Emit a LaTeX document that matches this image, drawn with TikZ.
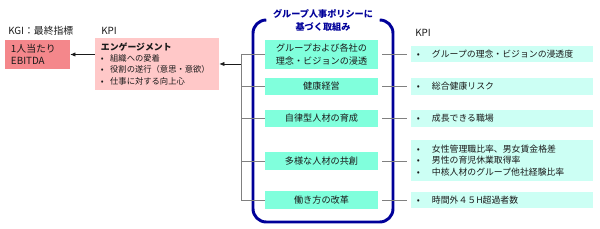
\documentclass[tikz,border=0pt]{standalone}
\usepackage{fontspec}
\setmainfont{Noto Sans CJK JP}
\usetikzlibrary{arrows.meta,positioning,calc}
\definecolor{ink}{HTML}{1A1A1A}
\definecolor{navy}{HTML}{000099}
\definecolor{kgired}{HTML}{F4878B}
\definecolor{kpipink}{HTML}{FFC8C8}
\definecolor{aqua}{HTML}{80FFDC}
\definecolor{paleaqua}{HTML}{CCFFF4}
\definecolor{wire}{HTML}{808080}
\newcommand{\kpidot}{\makebox[0.375cm][l]{•}}
\newcommand{\engdot}{\makebox[0.23cm][l]{•}}

\begin{document}
\begin{tikzpicture}[
  x=0.025cm, y=-0.025cm,
  font=\fontsize{6.3}{8.5}\selectfont, ink,
  label/.style={inner sep=0pt, font=\fontsize{7}{8.5}\selectfont},
  goal/.style={fill=kgired, minimum width=1.475cm, minimum height=0.725cm,
               text width=1.325cm, inner xsep=0.15cm, align=left,
               font=\fontsize{7}{8.6}\selectfont},
  engage/.style={fill=kpipink, minimum width=3.05cm, minimum height=1.2cm,
                 text width=2.8cm, inner xsep=0.15cm, align=left},
  policy/.style={fill=aqua, minimum width=2.825cm, inner sep=1pt, align=center,
                 font=\fontsize{6.5}{8.6}\selectfont},
  indicator/.style={fill=paleaqua, minimum width=4.55cm, text width=4.25cm,
                    inner xsep=0.15cm, inner ysep=1pt, align=left},
  link/.style={draw=wire, line width=0.6pt},
  feed/.style={draw=ink, line width=0.5pt, -{Latex[length=1.3mm, width=1.1mm]}},
  bracket/.style={draw=navy, line width=2.1pt, rounded corners=0.33cm},
]
\useasboundingbox (0,0) rectangle (600,229);

% ---- the goal and the engagement KPI ---------------------------------------
\node[label, anchor=west] (kgilab) at (8,31) {KGI：最終指標};
\node[label, anchor=west] (kpilab) at (101,31) {KPI};

\node[goal] (kgi) at (37.5,54.5) {1人当たり\\EBITDA};
\node[engage] (eng) at (157,64)
  {{\fontsize{6.3}{8}\selectfont\bfseries エンゲージメント}\\[-0.3pt]
   {\fontsize{5.9}{7.9}\selectfont
    \engdot 組織への愛着\\
    \engdot 役割の遂行（意思・意欲）\\
    \engdot 仕事に対する向上心}};

\draw[feed] (eng.west |- kgi.east) -- (kgi.east);

% ---- the group HR policy -----------------------------------------------------
\draw[bracket] (265,20) -- (253,20) -- (253,222) -- (393,222) -- (393,20) -- (381,20);
\node[font=\fontsize{6.5}{9.2}\selectfont\bfseries, text=navy, align=center]
  (heading) at (323,20.5) {グループ人事ポリシーに\\基づく取組み};

\node[policy, minimum height=0.725cm] (item1) at (321.5,54.5)
  {グループおよび各社の\\理念・ビジョンの浸透};
\node[policy, minimum height=0.425cm] (item2) at (321.5,86.5) {健康経営};
\node[policy, minimum height=0.425cm] (item3) at (321.5,118.5) {自律型人材の育成};
\node[policy, minimum height=0.425cm] (item4) at (321.5,161) {多様な人材の共創};
\node[policy, minimum height=0.425cm] (item5) at (321.5,200) {働き方の改革};

% tree into the engagement box
\coordinate (trunk) at (241,64);
\draw[link] (item1.west) -- (item1.west -| trunk) -- (item5.west -| trunk) -- (item5.west);
\draw[link] (item2.west) -- (item2.west -| trunk);
\draw[link] (item3.west) -- (item3.west -| trunk);
\draw[link] (item4.west) -- (item4.west -| trunk);
\draw[feed] (trunk) -- (eng.east);

% ---- KPI per initiative ------------------------------------------------------
\node[label, anchor=west] (kpilab2) at (415,33) {KPI};

\node[indicator, minimum height=0.4cm] (kpi1) at (502,54.5)
  {\kpidot グループの理念・ビジョンの浸透度};
\node[indicator, minimum height=0.42cm] (kpi2) at (502,86.5) {\kpidot 総合健康リスク};
\node[indicator, minimum height=0.42cm] (kpi3) at (502,118.5) {\kpidot 成長できる職場};
\node[indicator, minimum height=1.0cm, font=\fontsize{6.3}{8.3}\selectfont] (kpi4) at (502,160.5)
  {\kpidot 女性管理職比率、男女賃金格差\\
   \kpidot 男性の育児休業取得率\\
   \kpidot 中核人材のグループ他社経験比率};
\node[indicator, minimum height=0.42cm] (kpi5) at (502,200) {\kpidot 時間外４５H超過者数};

\draw[link] ([xshift=0.1cm]item1.east) -- ([xshift=-0.1cm]item1.east -| kpi1.west);
\draw[link] ([xshift=0.1cm]item2.east) -- ([xshift=-0.1cm]item2.east -| kpi2.west);
\draw[link] ([xshift=0.1cm]item3.east) -- ([xshift=-0.1cm]item3.east -| kpi3.west);
\draw[link] ([xshift=0.1cm]item4.east) -- ([xshift=-0.1cm]item4.east -| kpi4.west);
\draw[link] ([xshift=0.1cm]item5.east) -- ([xshift=-0.1cm]item5.east -| kpi5.west);

\end{tikzpicture}
\end{document}
